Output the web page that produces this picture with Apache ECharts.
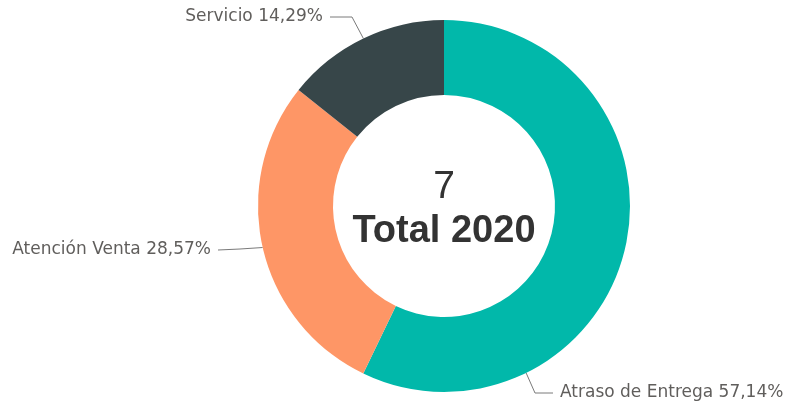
<!DOCTYPE html>
<html>
<head>
<meta charset="utf-8">
<script src="https://cdn.jsdelivr.net/npm/echarts@6/dist/echarts.min.js"></script>
<style>
  html, body { margin: 0; padding: 0; background: #fff; }
  #chart { width: 795px; height: 406px; }
</style>
</head>
<body>
<div id="chart"></div>
<script>
// Complaint categories and counts for 2020
const categories = ['Atraso de Entrega', 'Atención Venta', 'Servicio'];
const counts = [4, 2, 1];
const sliceColors = ['#01B8AA', '#FE9666', '#374649'];
const centerCaption = 'Total 2020';

// Donut geometry
const CX = 444, CY = 206, R_IN = 111, R_OUT = 186;

// Callout placement: angle (deg, clockwise from top) of the leader start,
// elbow point, end of the horizontal run and text side
const callouts = [
  { angle: 153.8, elbow: [535, 393], end: [553, 393], side: 'right' },
  { angle: 257.1, elbow: [240, 249], end: [218, 250], side: 'left' },
  { angle: 334.3, elbow: [352, 17], end: [330, 17], side: 'left' }
];

const total = counts.reduce((a, b) => a + b, 0);

const chart = echarts.init(document.getElementById('chart'), null, { renderer: 'canvas' });

chart.setOption({
  animation: false,
  backgroundColor: '#ffffff',
  color: sliceColors,
  series: [{
    type: 'pie',
    center: [CX, CY],
    radius: [R_IN, R_OUT],
    startAngle: 90,
    clockwise: true,
    avoidLabelOverlap: false,
    data: categories.map((name, i) => ({ name, value: counts[i] })),
    label: {
      show: true,
      position: 'outside',
      fontFamily: 'DejaVu Sans',
      fontSize: 17,
      color: '#605E5C',
      formatter: p => p.name + ' ' + p.percent.toFixed(2).replace('.', ',') + '%'
    },
    labelLine: {
      show: true,
      lineStyle: { color: '#7a7a7a', width: 1 }
    },
    labelLayout: function (params) {
      const c = callouts[params.dataIndex];
      const a = c.angle * Math.PI / 180;
      const start = [CX + R_OUT * Math.sin(a), CY - R_OUT * Math.cos(a)];
      const right = c.side === 'right';
      return {
        x: c.end[0] + (right ? 7 : -7),
        y: c.end[1],
        align: right ? 'left' : 'right',
        verticalAlign: 'middle',
        labelLinePoints: [start, c.elbow, c.end]
      };
    }
  }],
  graphic: [
    {
      type: 'text',
      x: CX, y: 187,
      style: {
        text: String(total),
        fontFamily: 'Liberation Sans',
        fontSize: 39,
        fill: '#333333',
        align: 'center',
        verticalAlign: 'middle'
      }
    },
    {
      type: 'text',
      x: CX, y: 232,
      style: {
        text: centerCaption,
        fontFamily: 'Liberation Sans',
        fontWeight: 'bold',
        fontSize: 38,
        fill: '#333333',
        align: 'center',
        verticalAlign: 'middle'
      }
    }
  ]
});
</script>
</body>
</html>
